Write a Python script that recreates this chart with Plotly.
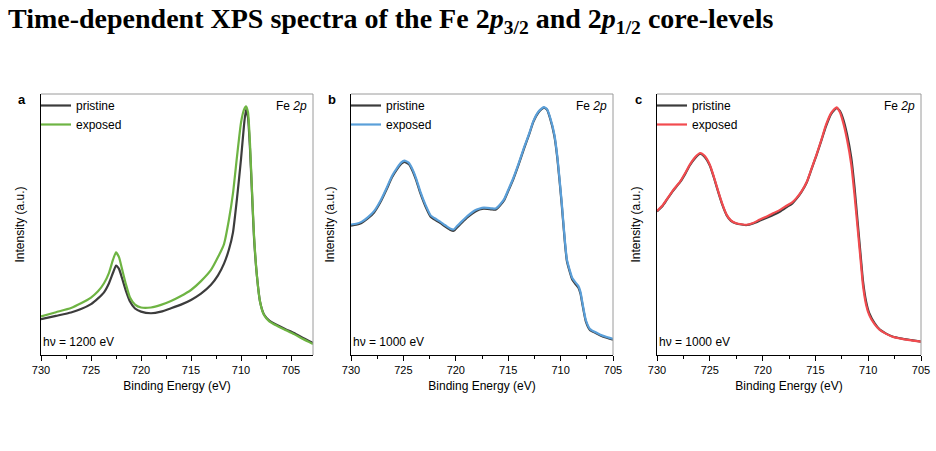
import plotly.graph_objects as go

W, H = 936, 451

# ---------------- data ----------------
# Panel a (hv = 1200 eV)
be_a = [730.0, 728.5, 727.0, 726.0, 725.0, 724.3, 723.7, 723.2, 722.8, 722.5, 722.2, 721.9,
        721.5, 721.1, 720.6, 720.0, 719.0, 718.0, 717.0, 716.0, 715.0, 714.0, 713.0, 712.3,
        711.7, 711.2, 710.8, 710.4, 710.0, 709.7, 709.5, 709.3, 709.1, 708.9, 708.7, 708.4,
        708.1, 707.7, 707.2, 706.4, 705.5, 704.7, 703.8, 702.8]
pristine_a = [13.7, 15.0, 16.3, 17.6, 19.5, 21.7, 24.0, 27.5, 31.5, 34.3, 33.0, 29.5,
              24.5, 20.5, 17.8, 16.6, 16.0, 16.6, 17.9, 19.3, 21.1, 23.5, 26.9, 30.5,
              35.0, 40.5, 47.0, 60.0, 75.0, 88.0, 94.0, 91.0, 79.0, 62.0, 45.0, 30.0,
              20.5, 15.5, 13.3, 11.5, 9.8, 8.4, 6.5, 4.6]
exposed_a = [14.8, 16.4, 18.0, 19.8, 22.0, 24.4, 27.5, 31.5, 36.5, 39.3, 37.5, 33.0,
             27.0, 22.0, 19.3, 18.2, 18.2, 19.2, 20.7, 22.6, 24.9, 28.3, 32.6, 37.5,
             42.5, 52.0, 62.0, 76.0, 89.0, 94.0, 95.3, 93.0, 81.0, 63.0, 46.0, 30.0,
             20.5, 15.3, 13.0, 11.2, 9.5, 8.0, 6.1, 4.2]

# Panel b (hv = 1000 eV)
be_b = [730.0, 729.5, 729.0, 728.4, 727.8, 727.2, 726.6, 726.1, 725.6, 725.2, 724.9, 724.5,
        724.2, 723.8, 723.4, 722.9, 722.4, 721.9, 721.5, 721.0, 720.5, 720.2, 719.9, 719.4,
        718.9, 718.4, 718.0, 717.5, 717.0, 716.6, 716.2, 715.8, 715.4, 715.0, 714.5, 714.0,
        713.5, 713.0, 712.6, 712.1, 711.6, 711.3, 711.0, 710.6, 710.3, 709.9, 709.6, 709.4,
        709.1, 708.9, 708.6, 708.3, 708.1, 707.9, 707.6, 707.2, 706.7, 706.2, 705.6, 705.0]
pristine_b = [49.6, 49.9, 50.6, 52.3, 54.6, 58.5, 63.5, 68.0, 71.2, 73.3, 74.0, 73.2,
              71.2, 67.2, 62.2, 57.0, 53.0, 51.6, 50.6, 49.2, 47.9, 47.6, 48.8, 50.8,
              52.7, 54.3, 55.3, 56.0, 56.0, 55.8, 55.7, 57.2, 59.2, 62.8, 67.5, 73.0,
              79.0, 84.5, 89.3, 93.0, 94.8, 94.0, 90.6, 84.0, 75.0, 58.0, 43.5, 36.0,
              31.5, 29.0, 27.3, 25.8, 23.5, 19.0, 13.0, 9.6, 8.5, 7.5, 6.6, 5.9]
exposed_b = [50.0, 50.3, 51.0, 52.7, 55.1, 59.0, 64.0, 68.5, 71.7, 73.8, 74.5, 73.7,
             71.7, 67.8, 62.8, 57.6, 53.5, 52.1, 51.1, 49.7, 48.4, 48.1, 49.3, 51.3,
             53.2, 54.8, 55.7, 56.4, 56.4, 56.2, 56.1, 57.6, 59.6, 63.2, 67.9, 73.4,
             79.4, 84.8, 89.6, 93.3, 95.0, 94.2, 91.0, 84.6, 75.6, 58.8, 44.2, 36.6,
             32.1, 29.6, 27.9, 26.4, 24.1, 19.6, 13.5, 10.0, 8.8, 7.8, 6.9, 6.2]

# Panel c (hv = 1000 eV)
be_c = [730.0, 729.5, 729.1, 728.5, 727.8, 727.3, 726.9, 726.4, 725.9, 725.5, 725.0, 724.6,
        724.2, 723.8, 723.4, 723.0, 722.5, 722.0, 721.5, 720.9, 720.3, 719.6, 719.0, 718.3,
        717.7, 717.2, 716.8, 716.3, 715.8, 715.4, 714.9, 714.4, 714.0, 713.5, 713.0, 712.7,
        712.4, 712.0, 711.6, 711.3, 711.0, 710.7, 710.5, 710.2, 709.9, 709.4, 708.9, 708.3,
        707.7, 706.8, 705.9, 705.0]
pristine_c = [55.0, 57.0, 59.3, 62.8, 66.3, 69.6, 72.6, 75.4, 77.1, 76.0, 72.6, 67.8,
              62.4, 57.4, 53.5, 51.4, 50.4, 50.0, 49.8, 50.4, 51.4, 52.6, 53.6, 55.1,
              56.7, 58.0, 59.8, 62.6, 66.3, 70.8, 76.5, 82.6, 87.6, 92.4, 94.6, 93.6,
              90.8, 84.5, 75.5, 64.5, 51.0, 37.5, 28.6, 20.5, 16.0, 12.2, 9.7, 8.2,
              7.1, 6.3, 5.7, 5.1]
exposed_c = [55.2, 57.2, 59.5, 63.0, 66.5, 69.9, 72.9, 75.8, 77.4, 76.3, 72.9, 68.1,
             62.7, 57.7, 53.7, 51.6, 50.5, 50.1, 49.9, 50.6, 51.8, 53.1, 54.3, 55.7,
             57.3, 58.5, 60.1, 62.8, 66.5, 71.0, 76.7, 82.9, 88.2, 92.8, 94.9, 93.2,
             89.5, 82.5, 72.9, 61.5, 48.6, 35.5, 26.9, 19.3, 15.3, 11.8, 9.6, 8.1,
             7.0, 6.2, 5.6, 5.1]

x_ticks = [730, 725, 720, 715, 710, 705]
panels = [
    dict(be=be_a, p=pristine_a, e=exposed_a, color="#6EB443", hv="hν = 1200 eV",
         xr=[730, 702.8], label="a", px=(41, 313)),
    dict(be=be_b, p=pristine_b, e=exposed_b, color="#5A9FD9", hv="hν = 1000 eV",
         xr=[730, 705], label="b", px=(351, 613)),
    dict(be=be_c, p=pristine_c, e=exposed_c, color="#F24B4F", hv="hν = 1000 eV",
         xr=[730, 705], label="c", px=(657, 921)),
]

TOP, BOT = 94, 355
ydom = [1 - BOT / H, 1 - TOP / H]

fig = go.Figure()
annotations = []
shapes = []
font = "Liberation Sans, Arial, sans-serif"

for i, pn in enumerate(panels):
    n = "" if i == 0 else str(i + 1)
    xa, ya = "x" + n, "y" + n
    lg = "legend" + n
    fig.add_trace(go.Scatter(x=pn["be"], y=pn["p"], mode="lines", name="pristine",
                             line=dict(color="#3C3C3C", width=2.2, shape="spline", smoothing=0.5),
                             xaxis=xa, yaxis=ya, legend=lg))
    fig.add_trace(go.Scatter(x=pn["be"], y=pn["e"], mode="lines", name="exposed",
                             line=dict(color=pn["color"], width=2.2, shape="spline", smoothing=0.5),
                             xaxis=xa, yaxis=ya, legend=lg))
    x0, x1 = pn["px"]
    xdom = [x0 / W, x1 / W]
    fig.layout["xaxis" + n] = dict(
        domain=xdom, range=pn["xr"], anchor=ya, tickvals=x_ticks, automargin=False,
        ticks="outside", ticklen=5, tickwidth=1, tickcolor="black",
        minor=dict(ticks="outside", ticklen=3, dtick=2.5, tick0=727.5, tickcolor="black"),
        showline=True, linecolor="black", linewidth=1, showgrid=False, zeroline=False,
        tickfont=dict(family=font, size=11, color="black"),
        title=dict(text="Binding Energy (eV)", font=dict(family=font, size=12, color="black"),
                   standoff=6),
    )
    fig.layout["yaxis" + n] = dict(
        domain=ydom, range=[0, 100], anchor=xa, showticklabels=False, ticks="",
        automargin=False,
        showline=True, linecolor="black", linewidth=1, showgrid=False, zeroline=False,
        title=dict(text="Intensity (a.u.)", font=dict(family=font, size=12, color="black"),
                   standoff=12),
    )
    # top and right frame lines (grey)
    shapes.append(dict(type="line", xref=xa + " domain", yref=ya + " domain",
                       x0=0, x1=1, y0=1, y1=1, line=dict(color="#9a9a9a", width=1)))
    shapes.append(dict(type="line", xref=xa + " domain", yref=ya + " domain",
                       x0=1, x1=1, y0=0, y1=1, line=dict(color="#9a9a9a", width=1)))
    fig.layout[lg] = dict(x=(x0 - 5) / W, y=1 - (TOP - 3) / H, xanchor="left", yanchor="top",
                          bgcolor="rgba(0,0,0,0)", font=dict(family=font, size=12, color="black"),
                          itemwidth=30, tracegroupgap=0)
    annotations.append(dict(xref=xa + " domain", yref=ya + " domain", x=0.985, y=0.99,
                            xanchor="right", yanchor="top", showarrow=False,
                            text="Fe <i>2p</i>", font=dict(family=font, size=12, color="black")))
    annotations.append(dict(xref=xa + " domain", yref=ya + " domain", x=0.0, y=0.015,
                            xanchor="left", yanchor="bottom", showarrow=False,
                            text=pn["hv"], font=dict(family=font, size=12, color="black")))
    annotations.append(dict(xref="paper", yref="paper", x=(x0 - 19) / W, y=1 - 100 / H,
                            xanchor="center", yanchor="middle", showarrow=False,
                            text="<b>" + pn["label"] + "</b>",
                            font=dict(family=font, size=13, color="black")))

annotations.append(dict(xref="paper", yref="paper", x=6 / W, y=1 - 1 / H, xanchor="left",
                        yanchor="top", showarrow=False,
                        text="<b>Time-dependent XPS spectra of the Fe 2<i>p</i><sub>3/2</sub> and 2<i>p</i><sub>1/2</sub> core-levels</b>",
                        font=dict(family="Liberation Serif, serif", size=28, color="black")))

fig.update_layout(width=W, height=H, margin=dict(l=0, r=0, t=0, b=0),
                  paper_bgcolor="white", plot_bgcolor="white",
                  annotations=annotations, shapes=shapes, showlegend=True)

fig.write_html("out.html")
